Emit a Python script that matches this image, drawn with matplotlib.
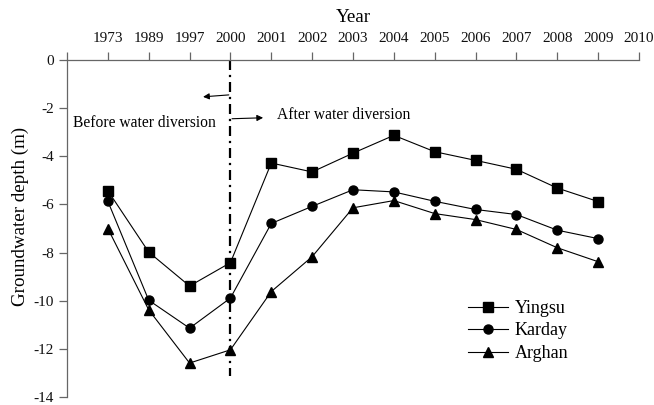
import matplotlib
matplotlib.use("Agg")
import matplotlib.pyplot as plt

plt.rcParams['font.family'] = ['Liberation Serif', 'DejaVu Serif']

years = ['1973', '1989', '1997', '2000', '2001', '2002', '2003', '2004',
         '2005', '2006', '2007', '2008', '2009', '2010']
yingsu = [-5.43, -7.98, -9.39, -8.42, -4.28, -4.65, -3.87, -3.13,
          -3.81, -4.17, -4.54, -5.32, -5.88]
karday = [-5.87, -9.98, -11.14, -9.89, -6.79, -6.08, -5.39, -5.48,
          -5.87, -6.21, -6.42, -7.07, -7.42]
arghan = [-7.00, -10.38, -12.59, -12.04, -9.62, -8.17, -6.14, -5.84,
          -6.38, -6.63, -7.04, -7.80, -8.38]
series_names = ['Yingsu', 'Karday', 'Arghan']
diversion_year = '2000'
diversion_line_bottom = -13.12

fig = plt.figure(figsize=(6.54, 4.05), dpi=100)
ax = fig.add_axes([67/654, 1-397/405, 572/654, 337/405])

pos = list(range(1, len(years) + 1))
n = len(yingsu)
kw = dict(color='black', lw=0.8, markersize=6.5)
ax.plot(pos[:n], yingsu, marker='s', label=series_names[0], **kw)
ax.plot(pos[:n], karday, marker='o', label=series_names[1], **kw)
ax.plot(pos[:n], arghan, marker='^', label=series_names[2], **kw)

xd = years.index(diversion_year) + 1
ax.plot([xd, xd], [0, diversion_line_bottom], color='black', lw=1.6,
        linestyle=(0, (4.5, 2.2, 1, 2.2)))

# arrows and annotations
ax.annotate('', xy=(3.33, -1.53), xytext=(3.96, -1.45),
            arrowprops=dict(arrowstyle='-|>', color='black', lw=0.8,
                            mutation_scale=9, shrinkA=0, shrinkB=0))
ax.annotate('', xy=(4.80, -2.40), xytext=(4.04, -2.44),
            arrowprops=dict(arrowstyle='-|>', color='black', lw=0.8,
                            mutation_scale=9, shrinkA=0, shrinkB=0))
ax.text(0.15, -2.61, 'Before water diversion', fontsize=11.2,
        ha='left', va='center')
ax.text(5.14, -2.28, 'After water diversion', fontsize=11.2,
        ha='left', va='center')

ax.set_xlim(0, 14)
ax.set_ylim(-14, 0)
ax.set_xticks([0] + pos)
ax.set_xticklabels([''] + years)
ax.set_yticks(range(-14, 1, 2))
ax.set_yticklabels([str(v) for v in range(-14, 1, 2)])

ax.xaxis.tick_top()
ax.xaxis.set_label_position('top')
ax.set_xlabel('Year', fontsize=13.7, va='center')
ax.xaxis.set_label_coords(0.5, 1.127)
ax.set_ylabel('Groundwater depth (m)', fontsize=13.7, va='center')
ax.yaxis.set_label_coords(-0.082, 0.535)

for side in ['right', 'bottom']:
    ax.spines[side].set_visible(False)
spine_col = '#666666'
for side in ['left', 'top']:
    ax.spines[side].set_color(spine_col)
    ax.spines[side].set_linewidth(0.9)
ax.tick_params(axis='both', direction='out', length=5.5, width=0.9,
               color=spine_col, labelsize=11, labelcolor='#111111')
ax.tick_params(axis='x', pad=5)
ax.tick_params(axis='y', pad=4)

leg = ax.legend(loc='upper left', bbox_to_anchor=(468/654, 1-300/405),
                bbox_transform=fig.transFigure, frameon=False,
                fontsize=13, borderpad=0, borderaxespad=0,
                handlelength=2.2, handletextpad=0.4, labelspacing=0.3)

fig.savefig('out.png', dpi=100)
